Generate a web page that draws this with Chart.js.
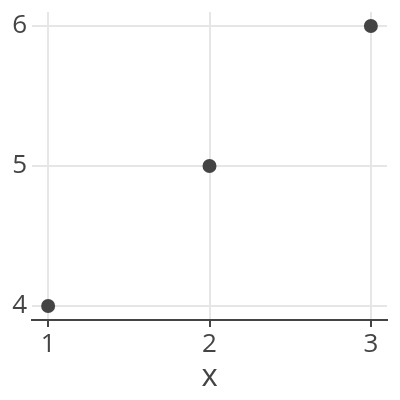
<!DOCTYPE html>
<html><head><meta charset="utf-8">
<script src="https://cdn.jsdelivr.net/npm/chart.js@4"></script>
<style>html,body{margin:0;padding:0;background:#fff}#w{width:400px;height:400px}</style>
</head><body><div id="w"><canvas id="c"></canvas></div>
<script>
const xValues = [1, 2, 3];
const yValues = [4, 5, 6];
const xTicks = [1, 2, 3];
const yTicks = [4, 5, 6];
const xTitle = 'x';

const FONT = "'Open Sans', sans-serif";
const pts = xValues.map((x, i) => ({x: x, y: yValues[i]}));
new Chart(document.getElementById('c'), {
  type: 'scatter',
  data: {datasets: [{data: pts, backgroundColor: '#444444', borderColor: '#444444', pointRadius: 7, pointHoverRadius: 7, borderWidth: 0}]},
  options: {
    responsive: true, maintainAspectRatio: false, animation: false,
    layout: {padding: {top: 12, right: 13, left: 0, bottom: 0}},
    plugins: {legend: {display: false}, tooltip: {enabled: false}},
    scales: {
      x: {
        type: 'linear', min: 0.9, max: 3.1,
        afterBuildTicks: s => { s.ticks = xTicks.map(v => ({value: v})); },
        afterFit: s => { s.height = 80; s.paddingLeft = 0; s.paddingRight = 0; },
        grid: {color: '#e6e6e6', lineWidth: 2, tickColor: '#444444', tickLength: 7, tickWidth: 2, drawTicks: true},
        border: {display: true, color: '#444444', width: 2},
        ticks: {color: '#444444', font: {family: FONT, size: 26}, padding: 2, maxRotation: 0},
        title: {display: true, text: xTitle, color: '#444444', font: {family: FONT, size: 31}, padding: {top: 0, bottom: 4}}
      },
      y: {
        type: 'linear', min: 3.9, max: 6.1,
        afterBuildTicks: s => { s.ticks = yTicks.map(v => ({value: v})); },
        afterFit: s => { s.width = 32; s.paddingTop = 0; s.paddingBottom = 0; },
        grid: {color: '#e6e6e6', lineWidth: 2, drawTicks: false},
        border: {display: false},
        ticks: {color: '#444444', font: {family: FONT, size: 26}, padding: 5}
      }
    }
  }
});
</script></body></html>
